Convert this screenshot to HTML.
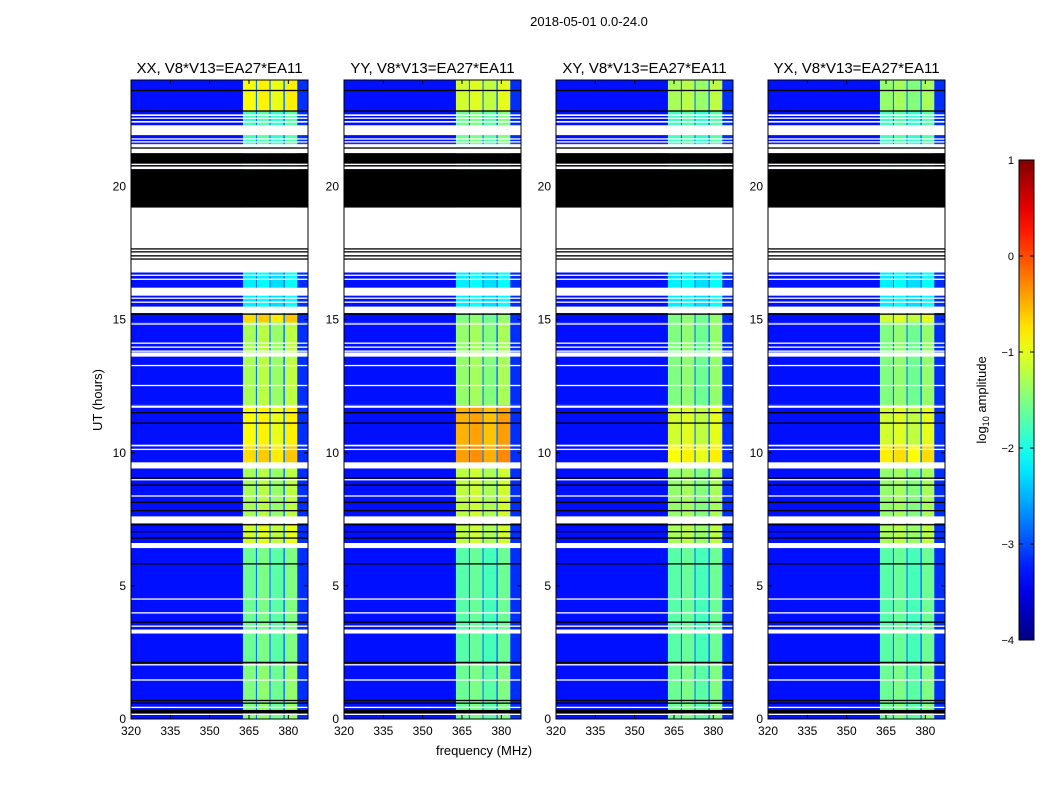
<!DOCTYPE html>
<html><head><meta charset="utf-8">
<style>
body{margin:0;background:#fff;}
svg{display:block;font-family:"Liberation Sans",sans-serif;}
</style></head>
<body>
<svg id="fig" width="1050" height="800" xmlns="http://www.w3.org/2000/svg">
<text x="589" y="26" font-size="13" text-anchor="middle">2018-05-01 0.0-24.0</text>
<text transform="translate(102,400) rotate(-90)" font-size="13" text-anchor="middle">UT (hours)</text>
<text x="484" y="755" font-size="13" text-anchor="middle">frequency (MHz)</text>
<text transform="translate(986,400) rotate(-90)" font-size="13" text-anchor="middle">log<tspan font-size="9" dy="3">10</tspan><tspan dy="-3"> amplitude</tspan></text>
</svg>
<script>
const panelTitles=["XX, V8*V13=EA27*EA11","YY, V8*V13=EA27*EA11","XY, V8*V13=EA27*EA11","YX, V8*V13=EA27*EA11"];
const panelLeft=[131,344,556,768];
const xTicks=[320,335,350,365,380];
const yTicks=[0,5,10,15,20];
const cbTicks=[1,0,-1,-2,-3,-4];
// channel groups (MHz edges) and type
const chanEdges=[320,362.7,367.6,368.1,372.8,373.3,378.1,378.7,383.4,387.5];
const chanType=["bg","b","gap","b","gap","b","gap","b","edge"];
const subOffset=[0,0.08,-0.08,0.1];
const bgLevel=-3.3, gapLevel=-2.8, edgeLevel=-3.15;
// time regions (hours) and band levels per panel
const regionEdges=[0,2.1,6.5,7.35,9.5,10.3,11.8,14.9,15.25,17.2,21.6,22.85,24];
const bandXX=[-1.5,-1.6,-1.1,-1.3,-0.7,-0.9,-1.3,-0.7,-2.2,-2.0,-1.8,-0.9];
const bandYY=[-1.6,-1.7,-1.2,-1.2,-0.4,-0.5,-1.4,-1.5,-2.2,-2.0,-1.6,-1.1];
const bandXY=[-1.6,-1.7,-1.3,-1.4,-0.9,-1.1,-1.5,-1.5,-2.2,-2.0,-1.8,-1.3];
const bandYX=[-1.6,-1.7,-1.3,-1.4,-0.8,-1.1,-1.5,-1.1,-2.2,-2.0,-1.8,-1.4];
const bandLevels=[bandXX,bandYY,bandXY,bandYX];
const whiteFlags=[[22.71,22.65],[22.59,22.55],[22.46,22.40],[22.30,21.93],[21.81,21.78],[21.70,21.65],[21.59,21.25],[20.86,20.80],[20.75,20.65],[19.21,16.77],[16.69,16.66],[16.54,16.51],[16.20,15.90],[15.83,15.80],[15.68,15.65],[15.49,15.25],[14.86,14.83],[14.14,14.11],[13.99,13.96],[13.84,13.81],[13.77,13.61],[13.30,13.27],[12.55,12.52],[11.77,11.69],[10.30,10.24],[10.15,10.12],[9.64,9.41],[9.01,8.98],[8.40,8.37],[7.61,7.35],[6.61,6.42],[4.53,4.50],[4.01,3.98],[3.51,3.48],[3.36,3.21],[2.06,2.03],[1.49,1.44],[0.46,0.43],[0.20,0.17]];
const blackFlags=[[23.63,23.60],[22.86,22.82],[21.47,21.44],[21.25,20.86],[20.80,20.75],[20.65,19.21],[17.68,17.65],[17.57,17.54],[17.42,17.37],[17.30,17.27],[15.23,15.20],[11.53,11.50],[11.14,11.11],[9.07,9.04],[8.81,8.78],[8.16,8.13],[7.85,7.82],[7.32,7.29],[7.06,7.03],[6.82,6.79],[5.85,5.82],[3.66,3.63],[2.15,2.09],[0.72,0.69],[0.62,0.59],[0.34,0.21]];

const NS="http://www.w3.org/2000/svg";
const svg=document.getElementById('fig');
const T=80,B=719,PW=177;
const yS=h=>B-(h/24)*(B-T);
const xS=(l,f)=>l+(f-320)/(387.5-320)*PW;
function jet(v){let t=(v+4)/5;t=Math.max(0,Math.min(1,t));
 const f=x=>Math.max(0,Math.min(1,x));
 const r=f(1.5-Math.abs(4*t-3)),g=f(1.5-Math.abs(4*t-2)),b=f(1.5-Math.abs(4*t-1));
 return `rgb(${Math.round(r*255)},${Math.round(g*255)},${Math.round(b*255)})`;}
function mk(tag,attrs,parent){const e=document.createElementNS(NS,tag);for(const k in attrs)e.setAttribute(k,attrs[k]);(parent||svg).appendChild(e);return e;}

panelLeft.forEach((L,p)=>{
 const g=mk('g',{});
 
 
 for(let r=0;r<regionEdges.length-1;r++){
  const y1=yS(regionEdges[r+1]),y0=yS(regionEdges[r]);
  let bi=0;
  for(let c=0;c<chanType.length;c++){
   let v;
   if(chanType[c]==='bg')v=bgLevel;else if(chanType[c]==='gap')v=gapLevel;else if(chanType[c]==='edge')v=edgeLevel;
   else{v=bandLevels[p][r]+subOffset[bi];bi++;}
   const x0=xS(L,chanEdges[c]),x1=xS(L,chanEdges[c+1]);
   const rc=mk('rect',{x:x0,y:y1,width:x1-x0,height:y0-y1,fill:jet(v)},g);
   
   
  }
 }
 [[whiteFlags,'#fff'],[blackFlags,'#000']].forEach(([arr,col])=>{
  arr.forEach(([a,b])=>{
   const ya=yS(a),yb=yS(b);const h=Math.max(1.3,yb-ya);
   const rc=mk('rect',{x:L,y:ya,width:PW,height:h,fill:col},g);
   
   
  });
 });
 const fr=mk('rect',{x:L,y:T,width:PW,height:B-T,fill:'none',stroke:'#000','stroke-width':1},g);
 
 
 const tt=mk('text',{x:L+PW/2,y:T-7,'font-size':15,'text-anchor':'middle'},g);tt.textContent=panelTitles[p];
 
 
 xTicks.forEach(t=>{const x=xS(L,t);
  mk('line',{x1:x,x2:x,y1:B,y2:B-4,stroke:'#000'},g);mk('line',{x1:x,x2:x,y1:T,y2:T+4,stroke:'#000'},g);
  const tx=mk('text',{x:x,y:B+16,'font-size':12,'text-anchor':'middle'},g);tx.textContent=t;
  
  });
 yTicks.forEach(t=>{const y=yS(t);
  mk('line',{x1:L,x2:L+4,y1:y,y2:y,stroke:'#000'},g);mk('line',{x1:L+PW,x2:L+PW-4,y1:y,y2:y,stroke:'#000'},g);
  const tx=mk('text',{x:L-5,y:y+4,'font-size':12,'text-anchor':'end'},g);tx.textContent=t;
  
  });
});
// colorbar
const cbT=160,cbB=640,cbL=1019,cbW=15;
const cy=v=>cbB-(v+4)/5*(cbB-cbT);
const defs=mk('defs',{});const lg=mk('linearGradient',{id:'cbg',x1:0,y1:1,x2:0,y2:0},defs);
for(let i=0;i<=20;i++){const v=-4+i*0.25;mk('stop',{offset:(i/20),'stop-color':jet(v)},lg);}
const cb=mk('rect',{x:cbL,y:cbT,width:cbW,height:cbB-cbT,fill:'url(#cbg)',stroke:'#000'});


cbTicks.forEach(t=>{const y=cy(t);
 mk('line',{x1:cbL,x2:cbL+4,y1:y,y2:y,stroke:'#000'});mk('line',{x1:cbL+cbW,x2:cbL+cbW-4,y1:y,y2:y,stroke:'#000'});
 const tx=mk('text',{x:cbL-5,y:y+4,'font-size':11,'text-anchor':'end'});tx.textContent=t<0?'\u2212'+(-t):t;
 
 });
</script>
</body></html>
